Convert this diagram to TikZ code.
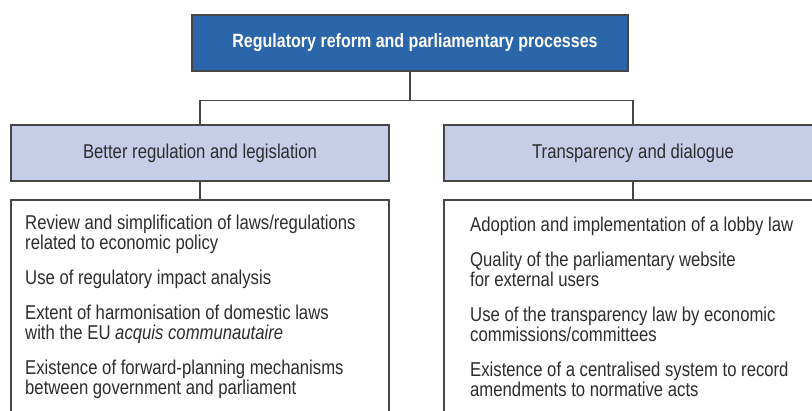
\documentclass[tikz,border=0pt]{standalone}
\usepackage{fontspec}
\setmainfont[FakeStretch=0.835]{Liberation Sans}
\definecolor{headblue}{RGB}{43,101,170}
\definecolor{pillar}{RGB}{197,205,231}
\definecolor{rule}{RGB}{70,70,70}
\definecolor{ink}{RGB}{45,45,45}
\begin{document}
\begin{tikzpicture}[x=1pt,y=-1pt,
  frame/.style={draw=rule,line width=1.1pt,rectangle,inner sep=0pt},
  headbox/.style={frame,fill=headblue,text=white,minimum width=436pt,minimum height=56pt,
    font=\fontsize{19.2}{21}\selectfont\bfseries},
  pillarbox/.style={frame,fill=pillar,text=ink,minimum width=378pt,minimum height=56pt,
    font=\fontsize{20}{22}\selectfont},
  listbox/.style={frame,fill=white,minimum width=378pt,minimum height=230pt},
  listtext/.style={anchor=north west,inner sep=0pt,align=left,text=ink,
    font=\fontsize{20}{20}\selectfont},
  link/.style={draw=rule,line width=1.1pt}]
\useasboundingbox (0,0) rectangle (812,411);
\clip (0,0) rectangle (812,411);
\fill[white] (0,0) rectangle (812,411);

% top level
\node[headbox] (root) at (410,43) {\hspace{10pt}Regulatory reform and parliamentary processes};

% the two pillars
\node[pillarbox] (better) at (200,153) {Better regulation and legislation};
\node[pillarbox] (transp) at (633,153) {Transparency and dialogue};

% indicator lists (boxes run past the lower edge)
\node[listbox] (betterlist) at (200,315) {};
\node[listbox] (transplist) at (633,315) {};

\node[listtext] (betteritems) at (25,215) {%
Review and simplification of laws/regulations\\
related to economic policy\\[15pt]
Use of regulatory impact analysis\\[15pt]
Extent of harmonisation of domestic laws\\
with the EU \textit{acquis communautaire}\\[15pt]
Existence of forward-planning mechanisms\\
between government and parliament};

\node[listtext] (transpitems) at (470,217) {%
Adoption and implementation of a lobby law\\[15pt]
Quality of the parliamentary website\\
for external users\\[15pt]
Use of the transparency law by economic\\
commissions/committees\\[15pt]
Existence of a centralised system to record\\
amendments to normative acts};

% connectors
\coordinate (fork) at ([yshift=-29pt]root.south);
\draw[link] (root.south) -- (fork);
\draw[link] (better.north) |- (fork) -| (transp.north);
\draw[link] (better.south) -- (betterlist.north);
\draw[link] (transp.south) -- (transplist.north);
\end{tikzpicture}
\end{document}
